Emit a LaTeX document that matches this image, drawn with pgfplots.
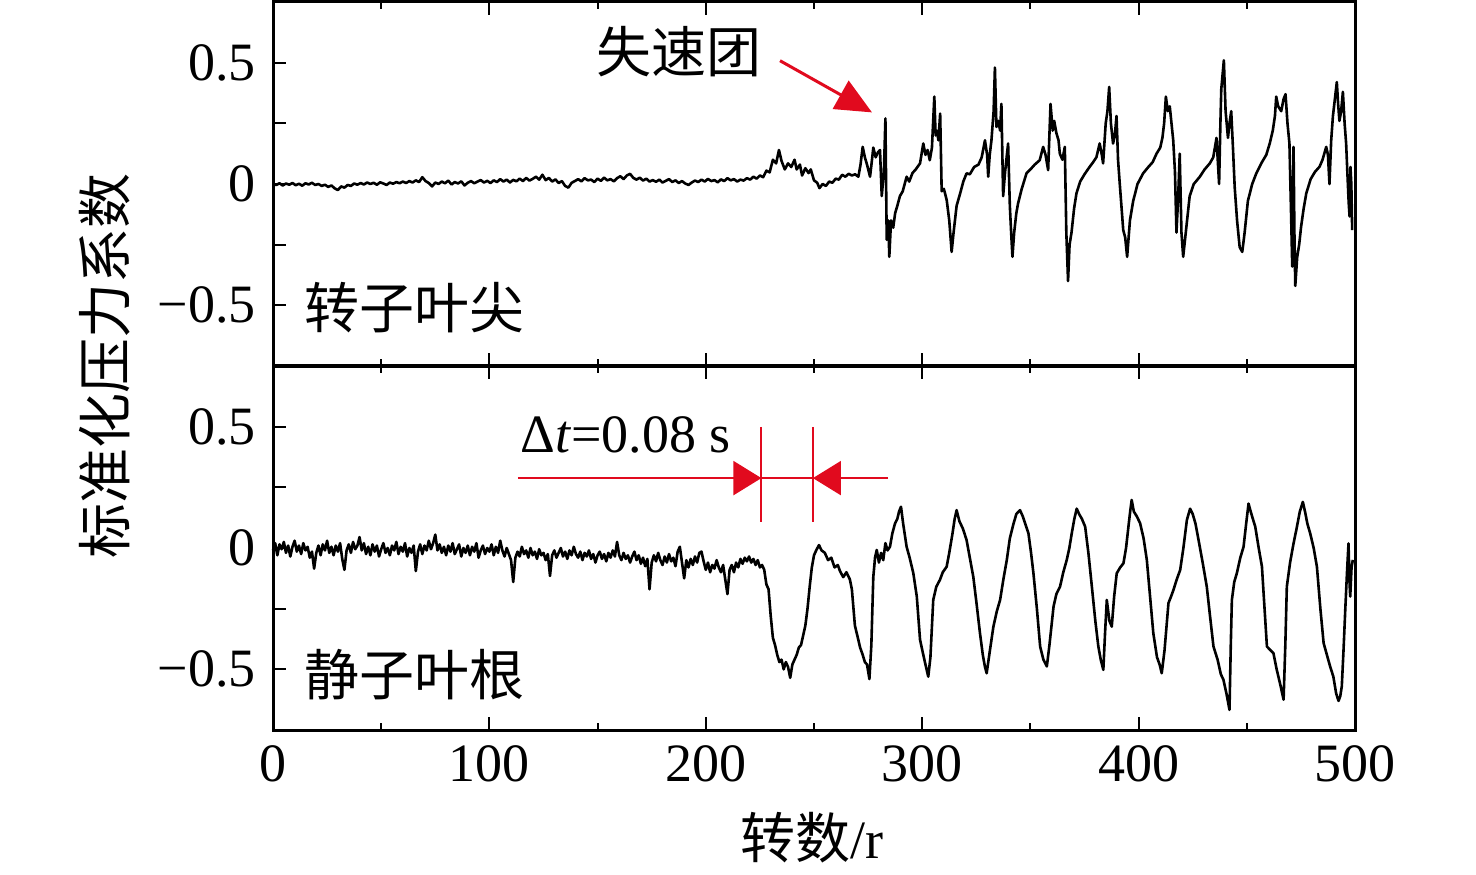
\documentclass[border=0pt]{standalone}
\usepackage{fontspec}
\setmainfont{Liberation Serif}
\newfontfamily\cjk{Noto Sans CJK SC}
\usepackage{pgfplots}
\pgfplotsset{compat=1.18}
\usetikzlibrary{arrows.meta}
\definecolor{myred}{RGB}{225,10,30}
\newcommand{\tl}{\fontsize{27}{31}\selectfont}
\newcommand{\cl}{\fontsize{27.5}{32}\selectfont\cjk}
\begin{document}
\begin{tikzpicture}
\useasboundingbox (0,0) rectangle (738pt,437pt);
\pgfplotsset{panel/.style={
  scale only axis, width=541pt, height=182pt, anchor=south west,
  xmin=0, xmax=500, ymin=-0.75, ymax=0.75,
  xtick={0,100,200,300,400,500}, minor xtick={50,150,250,350,450},
  ytick={-0.5,-0.25,0,0.25,0.5}, yticklabels={−0.5,,0,,0.5},
  ytick pos=left, xtick pos=both, tick align=inside,
  major tick length=6.5pt, minor tick length=3.5pt,
  axis line style={line width=1.5pt},
  every tick/.style={black, line width=1pt},
  tick label style={font=\tl},
  yticklabel style={xshift=-5pt},
  xticklabel style={yshift=-4.5pt},
  clip=false,
}}
\begin{axis}[panel, at={(136.5pt,254pt)}, xticklabels={}]
\addplot[black, line width=1.3pt, line join=round] coordinates {
(0,0.000) (1.5,-0.004) (3,0.003) (4.5,-0.006) (6,0.002) (7.5,-0.003) (9,0.004) (10.5,-0.005) (12,0.001) (13.5,-0.007)
(15,0.003) (16.5,-0.002) (18,0.005) (19.5,-0.004) (21,0.000) (22.5,-0.008) (24,-0.003) (25.5,-0.012) (27,-0.006) (28.5,-0.018)
(30,-0.025) (31.5,-0.010) (33,-0.015) (34.5,-0.004) (36,-0.008) (37.5,0.002) (39,-0.003) (40.5,0.004) (42,-0.002) (43.5,0.006)
(45,0.000) (46.5,0.005) (48,-0.003) (49.5,0.007) (51,0.002) (52.5,-0.004) (54,0.006) (55.5,0.001) (57,0.008) (58.5,0.003)
(60,0.010) (61.5,0.004) (63,0.012) (64.5,0.006) (66,0.015) (67.5,0.008) (69,0.028) (70.5,0.012) (72,0.004) (73.5,-0.010)
(75,0.006) (76.5,0.000) (78,0.010) (79.5,0.003) (81,0.014) (82.5,-0.002) (84,0.008) (85.5,0.002) (87,0.011) (88.5,-0.006)
(90,0.005) (91.5,0.012) (93,0.003) (94.5,0.010) (96,0.016) (97.5,0.006) (99,0.013) (100.5,0.004) (102,0.015) (103.5,0.008)
(105,0.020) (106.5,0.010) (108,0.018) (109.5,0.006) (111,0.017) (112.5,0.011) (114,0.022) (115.5,0.012) (117,0.025) (118.5,0.014)
(120,0.021) (121.5,0.030) (123,0.018) (124.5,0.038) (126,0.016) (127.5,0.025) (129,0.010) (130.5,0.019) (132,0.004) (133.5,0.012)
(135,-0.008) (136.5,-0.015) (138,0.005) (139.5,0.012) (141,0.020) (142.5,0.011) (144,0.024) (145.5,0.015) (147,0.018) (148.5,0.008)
(150,0.022) (151.5,0.013) (153,0.026) (154.5,0.015) (156,0.020) (157.5,0.011) (159,0.024) (160.5,0.032) (162,0.020) (163.5,0.035)
(165,0.042) (166.5,0.025) (168,0.018) (169.5,0.026) (171,0.014) (172.5,0.022) (174,0.010) (175.5,0.016) (177,0.009) (178.5,0.018)
(180,0.006) (181.5,0.013) (183,0.020) (184.5,0.008) (186,0.015) (187.5,0.004) (189,0.012) (190.5,0.002) (192,-0.004) (193.5,0.006)
(195,0.014) (196.5,0.008) (198,0.018) (199.5,0.010) (201,0.021) (202.5,0.012) (204,0.016) (205.5,0.007) (207,0.019) (208.5,0.012)
(210,0.024) (211.5,0.015) (213,0.020) (214.5,0.010) (216,0.018) (217.5,0.014) (219,0.024) (220.5,0.018) (222,0.030) (223.5,0.022)
(225,0.035) (226.5,0.028) (228,0.055) (229.5,0.048) (231,0.100) (232.5,0.085) (233.8,0.140) (235,0.095) (236.5,0.060) (238,0.085)
(239.5,0.070) (241,0.100) (242,0.060) (243.5,0.080) (244.5,0.035) (246,0.065) (247.5,0.045) (248.5,0.060) (250,0.015) (251.5,0.005)
(252.5,-0.017) (254,0.000) (255.5,-0.008) (257,0.010) (258.5,0.005) (260,0.022) (261.5,0.018) (263,0.038) (264.5,0.030) (266,0.042)
(267.5,0.035) (269,0.040) (270.5,0.030) (271.5,0.080) (272.5,0.153) (273.5,0.110) (274.5,0.080) (275.9,0.030) (276.8,0.100) (277.4,0.150)
(278.5,0.110) (279.5,0.130) (280.5,0.140) (281.3,-0.050) (282.3,0.050) (283.0,0.270) (283.6,-0.230) (284.3,-0.150) (284.8,-0.300) (285.6,-0.150)
(286.6,-0.180) (287.5,-0.120) (288.5,-0.090) (289.7,-0.050) (291,-0.030) (292.8,0.030) (294,0.010) (295.5,0.045) (297,0.060) (299,0.085)
(300.5,0.167) (301.5,0.120) (302.5,0.140) (303.5,0.098) (304.5,0.150) (305.6,0.360) (306.2,0.200) (306.8,0.220) (307.5,0.180) (308.3,0.290)
(309,-0.030) (310,-0.020) (311.3,-0.065) (312.5,-0.150) (313.6,-0.280) (314.5,-0.200) (315.9,-0.090) (317.5,-0.040) (319,0.010) (320.5,0.044)
(322,0.040) (324,0.070) (326,0.080) (327.5,0.110) (329,0.180) (330,0.120) (330.5,0.030) (331.2,0.120) (332,0.180) (333,0.300)
(333.6,0.480) (334.3,0.235) (335.2,0.260) (336,0.220) (336.6,0.330) (337.4,-0.050) (338.3,0.050) (339.7,0.167) (340.5,-0.090) (341.1,-0.200)
(341.7,-0.300) (342.5,-0.200) (343.5,-0.120) (344.3,-0.080) (346,-0.020) (348.2,0.044) (350,0.060) (352,0.080) (354.3,0.098) (355.9,0.153)
(357,0.120) (358.2,0.057) (359.3,0.330) (360.3,0.220) (361,0.260) (362,0.210) (363,0.180) (363.6,0.125) (364.8,0.100) (365.9,0.153)
(366.6,-0.200) (367.4,-0.400) (368.1,-0.250) (369,-0.200) (370.2,-0.100) (371.3,-0.038) (373,0.010) (375,0.040) (377.4,0.071) (379,0.090)
(380.5,0.110) (382,0.167) (383,0.120) (383.6,0.085) (384.8,0.250) (385.6,0.300) (386.4,0.400) (387.2,0.250) (388.2,0.167) (389,0.200)
(389.8,0.280) (390.5,0.100) (391.3,0.000) (392.9,-0.190) (393.8,-0.220) (394.7,-0.300) (396,-0.150) (397.5,-0.070) (399.5,0.000) (402.1,0.044)
(404.5,0.070) (406.5,0.090) (408.3,0.125) (410,0.150) (411,0.190) (411.8,0.250) (412.6,0.360) (413.5,0.300) (414.4,0.320) (415.2,0.250)
(416,0.180) (416.8,0.050) (417.5,-0.200) (418.3,-0.050) (419,0.125) (419.8,-0.200) (420.6,-0.300) (421.8,-0.200) (423.6,-0.050) (425.5,0.000)
(428.3,0.030) (430.5,0.060) (432.9,0.085) (434.5,0.110) (436,0.190) (437.2,0.000) (437.8,0.250) (438.2,0.390) (438.8,0.450) (439.4,0.510)
(440.2,0.300) (441.3,0.190) (442,0.250) (442.8,0.300) (443.6,0.150) (444.4,-0.012) (445.5,-0.150) (446.7,-0.260) (447.9,-0.280) (449,-0.200)
(450.5,-0.070) (452.5,0.000) (454.4,0.044) (457,0.090) (459,0.120) (460.6,0.167) (462,0.220) (463,0.280) (463.6,0.360) (464.5,0.320)
(465.9,0.300) (467,0.350) (467.9,0.370) (468.8,0.250) (469.7,0.167) (470.4,-0.100) (471,-0.340) (471.6,0.153) (472,-0.200) (472.4,-0.420)
(473.3,-0.300) (474.2,-0.250) (475.1,-0.175) (476.3,-0.100) (477.5,-0.038) (479.5,0.020) (481.5,0.050) (483.6,0.071) (485,0.100) (486.7,0.153)
(487.5,0.120) (488.2,0.000) (489,0.180) (489.8,0.280) (490.7,0.350) (491.6,0.420) (492.2,0.330) (492.8,0.260) (493.6,0.300) (494.4,0.380)
(495.2,0.250) (495.9,0.167) (496.7,0.000) (497.1,-0.080) (497.5,-0.134) (497.9,0.070) (498.3,0.000) (498.7,-0.190)
};
\node[font=\cl, inner sep=0pt] at (axis cs:187.6,0.545) {失速团};
\node[font=\cl, inner sep=0pt] at (axis cs:65.6,-0.508) {转子叶尖};
\draw[myred, line width=1.5pt, -{Triangle[length=18pt,width=16pt]}] (axis cs:234.3,0.508) -- (axis cs:276.8,0.295);
\end{axis}
\begin{axis}[panel, at={(136.5pt,72pt)}, xticklabels={0,100,200,300,400,500}]
\addplot[black, line width=1.3pt, line join=round] coordinates {
(0,-0.010) (1,0.020) (2,-0.030) (3,0.015) (4,-0.005) (5,0.025) (6,-0.020) (7,0.010) (8,-0.035) (9,0.005)
(10,0.030) (11,-0.015) (12,0.010) (13,-0.025) (14,0.020) (15,-0.010) (16,0.005) (17,-0.040) (18,-0.015) (19,-0.085)
(20,-0.020) (21,0.010) (22,-0.030) (23,0.015) (24,-0.010) (25,0.030) (26,-0.020) (27,0.005) (28,-0.030) (29,0.010)
(30,-0.015) (31,0.020) (32,-0.045) (33,-0.090) (34,-0.010) (35,0.015) (36,-0.020) (37,0.025) (38,-0.005) (39,0.010)
(40,0.045) (41,-0.010) (42,0.020) (43,-0.025) (44,0.005) (45,-0.030) (46,0.015) (47,-0.015) (48,0.010) (49,-0.035)
(50,-0.005) (51,0.020) (52,-0.020) (53,0.000) (54,-0.030) (55,0.010) (56,-0.010) (57,0.025) (58,-0.025) (59,0.005)
(60,-0.015) (61,0.020) (62,-0.035) (63,0.000) (64,-0.020) (65,0.010) (66,-0.095) (67,-0.015) (68,0.015) (69,-0.025)
(70,0.010) (71,-0.010) (72,0.030) (73,-0.005) (74,0.020) (75,0.055) (76,-0.010) (77,0.015) (78,-0.020) (79,0.005)
(80,-0.030) (81,0.010) (82,-0.015) (83,0.020) (84,-0.025) (85,-0.005) (86,0.015) (87,-0.035) (88,0.000) (89,-0.020)
(90,0.010) (91,-0.030) (92,0.005) (93,-0.015) (94,0.020) (95,-0.040) (96,-0.010) (97,0.010) (98,-0.025) (99,0.000)
(100,-0.015) (101,0.015) (102,-0.030) (103,0.005) (104,-0.020) (105,0.030) (106,-0.010) (107,-0.035) (108,0.000) (109,-0.025)
(110,-0.050) (111,-0.140) (112,-0.040) (113,-0.015) (114,-0.035) (115,0.005) (116,-0.025) (117,-0.010) (118,-0.040) (119,0.000)
(120,-0.030) (121,-0.015) (122,-0.045) (123,-0.005) (124,-0.030) (125,-0.020) (126,-0.050) (127,-0.025) (128,-0.115) (129,-0.030)
(130,-0.010) (131,-0.040) (132,-0.020) (133,0.000) (134,-0.035) (135,-0.015) (136,-0.045) (137,-0.010) (138,-0.030) (139,0.005)
(140,-0.025) (141,-0.040) (142,-0.015) (143,-0.050) (144,-0.020) (145,-0.035) (146,-0.010) (147,-0.045) (148,-0.025) (149,-0.060)
(150,-0.030) (151,-0.015) (152,-0.045) (153,-0.025) (154,-0.055) (155,-0.020) (156,-0.040) (157,-0.010) (158,-0.035) (159,0.025)
(160,-0.030) (161,-0.050) (162,-0.020) (163,-0.045) (164,-0.030) (165,-0.060) (166,-0.035) (167,-0.015) (168,-0.050) (169,-0.030)
(170,-0.065) (171,-0.040) (172,-0.075) (173,-0.045) (174,-0.170) (175,-0.060) (176,-0.030) (177,-0.055) (178,-0.020) (179,-0.050)
(180,-0.070) (181,-0.035) (182,-0.060) (183,-0.025) (184,-0.055) (185,-0.040) (186,-0.075) (187,-0.015) (188,0.005) (189,-0.060)
(190,-0.125) (191,-0.050) (192,-0.080) (193,-0.045) (194,-0.070) (195,-0.035) (196,-0.060) (197,-0.020) (198,-0.015) (199,-0.055)
(200,-0.090) (201,-0.060) (202,-0.100) (203,-0.070) (204,-0.085) (205,-0.050) (206,-0.080) (207,-0.100) (208,-0.070) (209,-0.130)
(210,-0.190) (211,-0.090) (212,-0.070) (213,-0.100) (214,-0.060) (215,-0.080) (216,-0.045) (217,-0.065) (218,-0.040) (219,-0.055)
(220,-0.035) (221,-0.060) (222,-0.045) (223,-0.070) (224,-0.050) (225,-0.080) (226,-0.070) (227,-0.090) (228,-0.150) (229,-0.170)
(230,-0.280) (231,-0.370) (232,-0.400) (233,-0.440) (234,-0.470) (235,-0.460) (236,-0.500) (237,-0.470) (238,-0.490) (239,-0.535)
(240,-0.480) (241,-0.460) (242,-0.440) (243,-0.410) (244,-0.400) (245,-0.360) (246,-0.320) (247,-0.250) (248,-0.160) (249,-0.080)
(250,-0.030) (251,-0.010) (252.3,0.012) (253.5,-0.010) (255,-0.020) (256.5,-0.050) (258,-0.040) (259.5,-0.080) (261,-0.070) (262,-0.095)
(263.5,-0.120) (265,-0.100) (266.6,-0.130) (267.5,-0.170) (268.9,-0.320) (270,-0.360) (271.3,-0.410) (272.5,-0.440) (273.5,-0.470) (274.5,-0.480)
(275.6,-0.540) (276.5,-0.400) (277.4,-0.120) (278.2,-0.040) (279,-0.008) (280,-0.060) (281,-0.020) (282,-0.050) (283,0.020) (284,-0.010)
(285.1,0.005) (286.2,0.060) (287.4,0.100) (288.5,0.120) (289.3,0.150) (290.2,0.170) (291.2,0.100) (292.8,0.005) (294.2,-0.040) (295.9,-0.104)
(297.5,-0.200) (299,-0.378) (300.5,-0.440) (301.5,-0.480) (302.8,-0.530) (303.8,-0.450) (305.1,-0.214) (306.5,-0.160) (308.2,-0.131) (309.5,-0.100)
(311.3,-0.077) (312.5,-0.020) (314,0.060) (315,0.120) (315.9,0.156) (317.2,0.110) (318.8,0.080) (320.5,0.033) (322,-0.040) (323.6,-0.118)
(325,-0.220) (326.7,-0.351) (328,-0.440) (329,-0.490) (329.8,-0.516) (331,-0.440) (332.9,-0.324) (334.5,-0.260) (336,-0.214) (337.5,-0.130)
(339.1,-0.049) (340.5,0.040) (342.2,0.100) (343.5,0.140) (345.2,0.156) (346.5,0.130) (348,0.090) (349.1,0.060) (350.3,-0.020) (351.4,-0.104)
(353,-0.250) (354.5,-0.406) (356,-0.460) (357.6,-0.488) (358.8,-0.400) (360.7,-0.241) (362,-0.190) (363.7,-0.159) (365.2,-0.100) (366.8,-0.049)
(368,0.000) (369.1,0.060) (370.3,0.120) (371.4,0.162) (372.5,0.140) (373.8,0.120) (375.3,0.088) (376.8,-0.020) (378.4,-0.159) (380,-0.300)
(381.4,-0.406) (382.5,-0.460) (383.7,-0.502) (384.5,-0.350) (385.3,-0.214) (386.5,-0.300) (387.6,-0.324) (388.7,-0.200) (389.9,-0.104) (391.5,-0.080)
(393,-0.063) (394.2,0.000) (395.3,0.088) (396.1,0.150) (396.8,0.198) (397.8,0.150) (399.2,0.130) (400.7,0.102) (402.3,0.040) (403.8,-0.049)
(405.3,-0.200) (406.8,-0.351) (408.5,-0.450) (409.7,-0.480) (410.7,-0.516) (412,-0.420) (413.8,-0.227) (415,-0.200) (416.1,-0.173) (417.6,-0.130)
(419.2,-0.091) (420.7,0.000) (422.3,0.115) (423.8,0.162) (425,0.140) (426.3,0.100) (427.7,0.033) (429.6,-0.060) (431.5,-0.159) (433,-0.280)
(434.6,-0.406) (436.5,-0.460) (438,-0.520) (439.2,-0.543) (440.6,-0.600) (442,-0.667) (442.6,-0.400) (443.1,-0.214) (444.2,-0.140) (445.4,-0.104)
(447,-0.040) (448.5,0.005) (449.7,0.100) (450.8,0.183) (451.8,0.150) (452.8,0.120) (453.9,0.088) (455.5,0.000) (457,-0.077) (458.2,-0.250)
(459.3,-0.406) (460.8,-0.420) (462.3,-0.433) (463.8,-0.500) (465.4,-0.560) (467,-0.625) (467.8,-0.400) (468.5,-0.159) (470,-0.060) (471.6,0.019)
(473,0.080) (474.5,0.150) (475.9,0.190) (476.9,0.150) (478,0.100) (479.3,0.060) (480.9,0.000) (482.4,-0.077) (484,-0.250) (485.5,-0.392)
(487,-0.440) (488.5,-0.488) (490,-0.530) (491.3,-0.600) (492.4,-0.630) (493.2,-0.610) (493.9,-0.570) (494.7,-0.420) (495.5,-0.255) (496.3,-0.100)
(497,0.019) (497.5,-0.150) (497.8,-0.200) (498.4,-0.080) (499,-0.049)
};
\node[font=\cl, inner sep=0pt] at (axis cs:65.6,-0.523) {静子叶根};
\node[font=\tl, inner sep=0pt, anchor=base west] at (axis cs:114.1,0.395) {Δ\textit{t}=0.08 s};
\draw[myred, line width=1pt] (axis cs:225.7,0.288) -- (axis cs:249.5,0.288);
\draw[myred, line width=1pt] (axis cs:225.7,0.499) -- (axis cs:225.7,0.106);
\draw[myred, line width=1pt] (axis cs:249.5,0.499) -- (axis cs:249.5,0.106);
\draw[myred, line width=1pt, -{Triangle[length=14pt,width=17pt]}] (axis cs:113.2,0.288) -- (axis cs:225.7,0.288);
\draw[myred, line width=1pt, -{Triangle[length=14pt,width=17pt]}] (axis cs:284.3,0.288) -- (axis cs:249.5,0.288);
\end{axis}
\node[font=\cl, rotate=90] at (52.5pt,254pt) {标准化压力系数};
\node[font=\tl] at (406pt,18pt) {{\cl 转数}/r};
\end{tikzpicture}
\end{document}
